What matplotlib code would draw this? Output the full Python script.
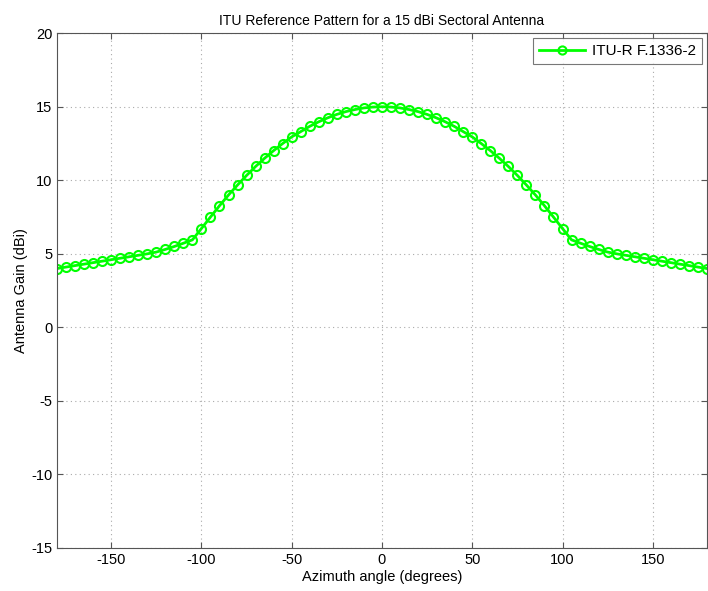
import matplotlib
matplotlib.use("Agg")
import matplotlib.pyplot as plt

plt.rcParams['font.family'] = ['Liberation Sans', 'DejaVu Sans']
plt.rcParams['axes.unicode_minus'] = False

# azimuth angles (deg), one marker every 5 degrees
azimuth = list(range(-180, 185, 5))

# gain for 0..180 deg, pattern is symmetric
gain_half = [15.0, 14.98, 14.92, 14.81, 14.67, 14.48, 14.25, 13.98, 13.67, 13.31,
             12.95, 12.5, 12.02, 11.5, 10.94, 10.33, 9.68, 9.0, 8.27, 7.5,
             6.72, 5.95, 5.72, 5.5, 5.3, 5.12, 5.0, 4.9, 4.8, 4.7,
             4.6, 4.5, 4.4, 4.3, 4.2, 4.1, 4.0]
gain = gain_half[:0:-1] + gain_half

fig = plt.figure(figsize=(7.08, 5.91), dpi=100)
ax = fig.add_axes([0.0805, 0.0728, 0.918, 0.871])

ax.plot(azimuth, gain, color='#00ff00', linewidth=2, marker='o', markersize=6.5,
        markerfacecolor='none', markeredgewidth=1.5, label='ITU-R F.1336-2')

ax.set_xlim(-180, 180)
ax.set_ylim(-15, 20)
ax.set_xticks([-150, -100, -50, 0, 50, 100, 150])
ax.set_yticks(range(-15, 25, 5))
ax.grid(True, linestyle=(0, (1, 3)), color='#aaaaaa', linewidth=0.8)
ax.tick_params(direction='in', top=True, right=True, labelsize=10.5, length=4, color='#555555')
for s in ax.spines.values():
    s.set_color('#555555')

ax.set_title('ITU Reference Pattern for a 15 dBi Sectoral Antenna', fontsize=10)
ax.set_xlabel('Azimuth angle (degrees)', fontsize=10.5, labelpad=2)
ax.set_ylabel('Antenna Gain (dBi)', fontsize=10.5, labelpad=2)

leg = ax.legend(loc='upper right', fancybox=False, fontsize=11, borderaxespad=0.3,
                handlelength=3.0, markerscale=0.9, borderpad=0.4, handletextpad=0.5)
leg.get_frame().set_edgecolor('#555555')
leg.get_frame().set_linewidth(0.8)

fig.savefig('out.png', dpi=100)
